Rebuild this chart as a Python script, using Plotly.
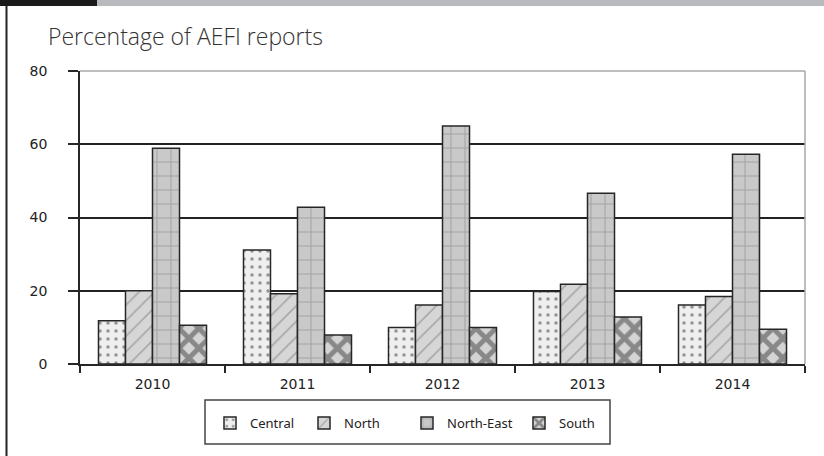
import plotly.graph_objects as go

# Share of AEFI reports by region, 2010-2014
years = ["2010", "2011", "2012", "2013", "2014"]
central = [11.8, 31.1, 10.0, 19.8, 16.1]
north = [20.0, 19.2, 16.1, 21.8, 18.4]
north_east = [58.9, 42.8, 65.0, 46.6, 57.3]
south = [10.6, 7.9, 10.0, 12.8, 9.5]
y_ticks = [0, 20, 40, 60, 80]

W, H = 824, 456
L, R, T, B = 80, 19, 71, 92
PW, PH = W - L - R, H - T - B


def px_x(px):
    return (px - L) / PW


def px_y(py):
    return (H - B - py) / PH


series = [
    ("Central", central, dict(shape=".", bgcolor="#efefef", fgcolor="#3a3a3a", size=8, solidity=0.16)),
    ("North", north, dict(shape="/", bgcolor="#d6d6d6", fgcolor="#7a7a7a", size=11, solidity=0.15)),
    ("North-East", north_east, dict(shape="+", bgcolor="#c9c9c9", fgcolor="#7c7c7c", size=14, solidity=0.14)),
    ("South", south, dict(shape="x", bgcolor="#d4d4d4", fgcolor="#3c3c3c", size=14, solidity=0.58)),
]
# each legend entry sits in its own legend box so the spacing can be set per entry
legend_left = [210, 304, 407, 519]
legend_ids = ["legend", "legend2", "legend3", "legend4"]

fig = go.Figure()
for (name, vals, pat), lid in zip(series, legend_ids):
    fig.add_trace(go.Bar(
        x=years, y=vals, name=name, legend=lid,
        marker=dict(color=pat["bgcolor"], pattern=dict(fillmode="overlay", **pat),
                    line=dict(color="#262626", width=1.5)),
    ))

shapes = [
    # top band of the page
    dict(type="rect", xref="paper", yref="paper", x0=px_x(0), x1=px_x(97), y0=px_y(6), y1=px_y(0),
         fillcolor="#1a1a1a", line_width=0, layer="above"),
    dict(type="rect", xref="paper", yref="paper", x0=px_x(97), x1=px_x(W), y0=px_y(6), y1=px_y(0),
         fillcolor="#b9babe", line_width=0, layer="above"),
    # left page rule
    dict(type="line", xref="paper", yref="paper", x0=px_x(6.5), x1=px_x(6.5), y0=px_y(6), y1=px_y(H),
         line=dict(color="#222222", width=2), layer="above"),
    # light frame on top and right of plot area
    dict(type="line", xref="paper", yref="paper", x0=0, x1=1, y0=1, y1=1,
         line=dict(color="#a8a8a8", width=1.5), layer="above"),
    dict(type="line", xref="paper", yref="paper", x0=1, x1=1, y0=0, y1=1,
         line=dict(color="#a8a8a8", width=1.5), layer="above"),
    # legend box
    dict(type="rect", xref="paper", yref="paper", x0=px_x(205), x1=px_x(610), y0=px_y(444), y1=px_y(400),
         line=dict(color="#444444", width=1.5), fillcolor="rgba(0,0,0,0)", layer="above"),
]

legend_style = dict(orientation="h", xanchor="left", y=px_y(423), yanchor="middle",
                    font=dict(family="Noto Sans", size=13, color="#222222"),
                    bgcolor="rgba(0,0,0,0)", borderwidth=0)

fig.update_layout(
    width=W, height=H,
    margin=dict(l=L, r=R, t=T, b=B),
    paper_bgcolor="white", plot_bgcolor="white",
    barmode="group", bargap=0.255, bargroupgap=0,
    shapes=shapes,
    showlegend=True,
    annotations=[dict(text="Percentage of AEFI reports", xref="paper", yref="paper",
                      x=px_x(46), y=px_y(36), xanchor="left", yanchor="middle", showarrow=False,
                      font=dict(family="Open Sans", size=23, color="#333333", weight=300))],
)
for lid, left in zip(legend_ids, legend_left):
    fig.update_layout({lid: dict(x=px_x(left), **legend_style)})

fig.update_xaxes(
    type="category", showline=True, linecolor="#262626", linewidth=1.5,
    ticks="outside", tickson="boundaries", ticklen=7, tickcolor="#262626", tickwidth=1.5,
    showgrid=False, ticklabelstandoff=6,
    tickfont=dict(family="DejaVu Sans", size=14, color="#222222"),
)
fig.update_yaxes(
    range=[0, 80], tickvals=y_ticks, showline=True, linecolor="#262626", linewidth=1.5,
    ticks="outside", ticklen=10, tickcolor="#262626", tickwidth=1.5,
    showgrid=True, gridcolor="#222222", gridwidth=1.6, zeroline=False,
    ticklabelstandoff=18,
    tickfont=dict(family="DejaVu Sans", size=14, color="#222222"),
)

fig.write_html("out.html")
